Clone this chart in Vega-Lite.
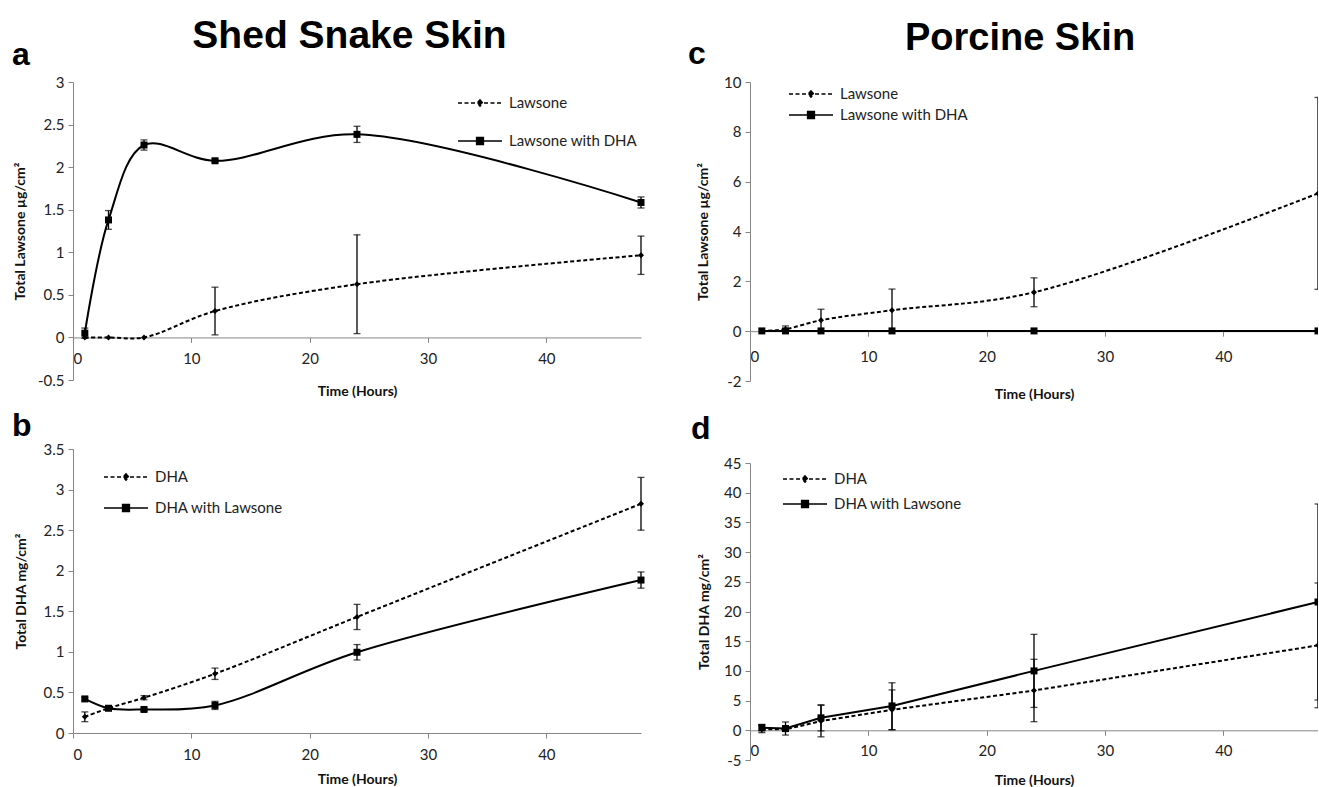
{
  "$schema": "https://vega.github.io/schema/vega-lite/v6.json",
  "background": "white",
  "padding": {"left": 12, "top": 16, "right": 0, "bottom": 0},
  "spacing": 43,
  "resolve": {"scale": {"strokeDash": "independent", "color": "independent", "x": "independent", "y": "independent"}, "legend": {"strokeDash": "independent", "color": "independent"}},
  "config": {
    "view": {"stroke": null},
    "font": "Lato",
    "axis": {"grid": false, "domainColor": "#868686", "tickColor": "#868686", "tickSize": 5, "labelFont": "Lato", "labelFontSize": 15, "labelColor": "#222", "titleFont": "Lato", "titleFontSize": 14, "titleFontWeight": "bold", "titleColor": "#111", "labelExpr": "'' + datum.value", "labelOverlap": false},
    "axisY": {"labelOverlap": false},
    "axisQuantitative": {"labelOverlap": false},
    "legend": {"labelFont": "Lato", "labelFontSize": 15, "labelColor": "#222", "symbolSize": 400, "symbolStrokeWidth": 1.7, "symbolFillColor": "black", "symbolStrokeColor": "black", "padding": 0, "labelOffset": 18, "orient": "none", "title": null},
    "title": {"color": "black"}
  },
  "datasets": {
    "a": [
      {"series": "Lawsone", "hours": 1, "value": 0, "lo": 0, "hi": 0},
      {"series": "Lawsone", "hours": 3, "value": 0, "lo": 0, "hi": 0},
      {"series": "Lawsone", "hours": 6, "value": 0, "lo": 0, "hi": 0},
      {"series": "Lawsone", "hours": 12, "value": 0.31, "lo": 0.03, "hi": 0.59},
      {"series": "Lawsone", "hours": 24, "value": 0.625, "lo": 0.045, "hi": 1.205},
      {"series": "Lawsone", "hours": 48, "value": 0.965, "lo": 0.74, "hi": 1.19},
      {"series": "Lawsone with DHA", "hours": 1, "value": 0.05, "lo": -0.01, "hi": 0.11},
      {"series": "Lawsone with DHA", "hours": 3, "value": 1.38, "lo": 1.27, "hi": 1.49},
      {"series": "Lawsone with DHA", "hours": 6, "value": 2.26, "lo": 2.2, "hi": 2.32},
      {"series": "Lawsone with DHA", "hours": 12, "value": 2.075, "lo": 2.055, "hi": 2.095},
      {"series": "Lawsone with DHA", "hours": 24, "value": 2.385, "lo": 2.29, "hi": 2.48},
      {"series": "Lawsone with DHA", "hours": 48, "value": 1.585, "lo": 1.52, "hi": 1.65}
    ],
    "b": [
      {"series": "DHA", "hours": 1, "value": 0.2, "lo": 0.14, "hi": 0.26},
      {"series": "DHA", "hours": 3, "value": 0.305, "lo": 0.29, "hi": 0.32},
      {"series": "DHA", "hours": 6, "value": 0.435, "lo": 0.41, "hi": 0.46},
      {"series": "DHA", "hours": 12, "value": 0.73, "lo": 0.66, "hi": 0.8},
      {"series": "DHA", "hours": 24, "value": 1.43, "lo": 1.275, "hi": 1.585},
      {"series": "DHA", "hours": 48, "value": 2.825, "lo": 2.5, "hi": 3.15},
      {"series": "DHA with Lawsone", "hours": 1, "value": 0.42, "lo": 0.4, "hi": 0.44},
      {"series": "DHA with Lawsone", "hours": 3, "value": 0.305, "lo": 0.29, "hi": 0.32},
      {"series": "DHA with Lawsone", "hours": 6, "value": 0.29, "lo": 0.27, "hi": 0.31},
      {"series": "DHA with Lawsone", "hours": 12, "value": 0.34, "lo": 0.29, "hi": 0.39},
      {"series": "DHA with Lawsone", "hours": 24, "value": 0.995, "lo": 0.9, "hi": 1.09},
      {"series": "DHA with Lawsone", "hours": 48, "value": 1.885, "lo": 1.785, "hi": 1.985}
    ],
    "c": [
      {"series": "Lawsone", "hours": 1, "value": 0, "lo": 0, "hi": 0},
      {"series": "Lawsone", "hours": 3, "value": 0.08, "lo": -0.05, "hi": 0.21},
      {"series": "Lawsone", "hours": 6, "value": 0.44, "lo": 0.0, "hi": 0.88},
      {"series": "Lawsone", "hours": 12, "value": 0.84, "lo": -0.01, "hi": 1.69},
      {"series": "Lawsone", "hours": 24, "value": 1.56, "lo": 0.98, "hi": 2.14},
      {"series": "Lawsone", "hours": 48, "value": 5.53, "lo": 1.68, "hi": 9.38},
      {"series": "Lawsone with DHA", "hours": 1, "value": 0.01, "lo": 0.01, "hi": 0.01},
      {"series": "Lawsone with DHA", "hours": 3, "value": 0.01, "lo": 0.01, "hi": 0.01},
      {"series": "Lawsone with DHA", "hours": 6, "value": 0.01, "lo": 0.01, "hi": 0.01},
      {"series": "Lawsone with DHA", "hours": 12, "value": 0.01, "lo": 0.01, "hi": 0.01},
      {"series": "Lawsone with DHA", "hours": 24, "value": 0.01, "lo": 0.01, "hi": 0.01},
      {"series": "Lawsone with DHA", "hours": 48, "value": 0.01, "lo": 0.01, "hi": 0.01}
    ],
    "d": [
      {"series": "DHA", "hours": 1, "value": 0.2, "lo": -0.4, "hi": 0.8},
      {"series": "DHA", "hours": 3, "value": 0.15, "lo": -0.2, "hi": 0.5},
      {"series": "DHA", "hours": 6, "value": 1.55, "lo": -1.1, "hi": 4.2},
      {"series": "DHA", "hours": 12, "value": 3.45, "lo": 0.1, "hi": 6.8},
      {"series": "DHA", "hours": 24, "value": 6.7, "lo": 1.45, "hi": 11.95},
      {"series": "DHA", "hours": 48, "value": 14.3, "lo": 3.8, "hi": 24.8},
      {"series": "DHA with Lawsone", "hours": 1, "value": 0.45, "lo": -0.1, "hi": 1.0},
      {"series": "DHA with Lawsone", "hours": 3, "value": 0.3, "lo": -0.8, "hi": 1.4},
      {"series": "DHA with Lawsone", "hours": 6, "value": 2.1, "lo": -0.1, "hi": 4.3},
      {"series": "DHA with Lawsone", "hours": 12, "value": 4.1, "lo": 0.1, "hi": 8.0},
      {"series": "DHA with Lawsone", "hours": 24, "value": 10.0, "lo": 3.85, "hi": 16.15},
      {"series": "DHA with Lawsone", "hours": 48, "value": 21.6, "lo": 5.1, "hi": 38.1}
    ]
  },
  "hconcat": [
    {
      "title": {"text": "Shed Snake Skin", "font": "Liberation Sans", "fontSize": 39, "fontWeight": "bold", "anchor": "middle", "baseline": "alphabetic", "offset": -48, "dx": 21},
      "bounds": "flush",
      "spacing": 69,
      "resolve": {"scale": {"strokeDash": "independent", "color": "independent", "x": "independent", "y": "independent"}, "legend": {"strokeDash": "independent", "color": "independent"}},
      "vconcat": [
        {
          "data": {"name": "a"},
          "width": 568, "height": 298,
          "title": {"text": "a", "font": "Liberation Sans", "fontSize": 32, "fontWeight": "bold", "anchor": "start", "frame": "group", "dx": -61, "offset": -21.5, "baseline": "alphabetic"},
          "encoding": {"x": {"field": "hours", "type": "quantitative", "scale": {"domain": [0, 48], "nice": false, "zero": false}, "axis": {"values": [0, 10, 20, 30, 40], "offset": -42.57, "title": "Time (Hours)", "titleY": 54, "titleBaseline": "middle", "labelPadding": 9}}},
          "layer": [
            {"transform": [{"filter": "datum.hi > datum.lo"}], "mark": {"type": "rule", "color": "black", "strokeWidth": 1.3},
             "encoding": {"y": {"field": "lo", "type": "quantitative", "scale": {"domain": [-0.5, 3], "nice": false, "zero": false}, "axis": {"values": [-0.5, 0, 0.5, 1, 1.5, 2, 2.5, 3], "title": "Total Lawsone µg/cm²", "titleX": -53, "titleBaseline": "middle", "labelPadding": 4, "labelOverlap": false}}, "y2": {"field": "hi"}}},
            {"transform": [{"filter": "datum.hi > datum.lo"}], "mark": {"type": "tick", "orient": "horizontal", "size": 7, "thickness": 1.3, "color": "black"}, "encoding": {"y": {"field": "lo", "type": "quantitative"}}},
            {"transform": [{"filter": "datum.hi > datum.lo"}], "mark": {"type": "tick", "orient": "horizontal", "size": 7, "thickness": 1.3, "color": "black"}, "encoding": {"y": {"field": "hi", "type": "quantitative"}}},
            {"transform": [{"filter": "datum.series === 'Lawsone'"}], "mark": {"type": "line", "interpolate": "catmull-rom", "color": "black", "strokeWidth": 2},
             "encoding": {"y": {"field": "value", "type": "quantitative"},
               "strokeDash": {"field": "series", "type": "nominal", "scale": {"domain": ["Lawsone"], "range": [[4, 2.5]]},
                 "legend": {"legendX": 396, "legendY": 10, "symbolType": "M-2.2,0H2.2M0,-0.3L0.27,0L0,0.3L-0.27,0Z", "encode": {"symbols": {"update": {"fill": {"value": "black"}, "stroke": {"value": "black"}, "strokeDash": {"value": [4, 2.5]}, "strokeWidth": {"value": 1.7}}}}}}}},
            {"transform": [{"filter": "datum.series === 'Lawsone with DHA'"}], "mark": {"type": "line", "interpolate": "catmull-rom", "strokeWidth": 2},
             "encoding": {"y": {"field": "value", "type": "quantitative"},
               "color": {"field": "series", "type": "nominal", "scale": {"domain": ["Lawsone with DHA"], "range": ["black"]},
                 "legend": {"legendX": 396, "legendY": 48, "symbolType": "M-2.2,0H2.2M-0.33,-0.33H0.33V0.33H-0.33Z", "encode": {"symbols": {"update": {"fill": {"value": "black"}, "stroke": {"value": "black"}}}}}}}},
            {"transform": [{"filter": "datum.series === 'Lawsone'"}], "mark": {"type": "point", "shape": "diamond", "size": 36, "filled": true, "color": "black", "opacity": 1},
             "encoding": {"y": {"field": "value", "type": "quantitative"}}},
            {"transform": [{"filter": "datum.series !== 'Lawsone'"}], "mark": {"type": "point", "shape": "square", "size": 49, "filled": true, "color": "black", "opacity": 1},
             "encoding": {"y": {"field": "value", "type": "quantitative"}}}
          ]
        },
        {
          "data": {"name": "b"},
          "width": 568, "height": 284,
          "title": {"text": "b", "font": "Liberation Sans", "fontSize": 32, "fontWeight": "bold", "anchor": "start", "frame": "group", "dx": -61, "offset": -25.5, "baseline": "alphabetic"},
          "encoding": {"x": {"field": "hours", "type": "quantitative", "scale": {"domain": [0, 48], "nice": false, "zero": false}, "axis": {"values": [0, 10, 20, 30, 40], "title": "Time (Hours)", "titleY": 46, "titleBaseline": "middle", "labelPadding": 9}}},
          "layer": [
            {"transform": [{"filter": "datum.hi > datum.lo"}], "mark": {"type": "rule", "color": "black", "strokeWidth": 1.3},
             "encoding": {"y": {"field": "lo", "type": "quantitative", "scale": {"domain": [0, 3.5], "nice": false}, "axis": {"values": [0, 0.5, 1, 1.5, 2, 2.5, 3, 3.5], "title": "Total DHA mg/cm²", "titleX": -52, "titleBaseline": "middle", "labelPadding": 4, "labelOverlap": false}}, "y2": {"field": "hi"}}},
            {"transform": [{"filter": "datum.hi > datum.lo"}], "mark": {"type": "tick", "orient": "horizontal", "size": 7, "thickness": 1.3, "color": "black"}, "encoding": {"y": {"field": "lo", "type": "quantitative"}}},
            {"transform": [{"filter": "datum.hi > datum.lo"}], "mark": {"type": "tick", "orient": "horizontal", "size": 7, "thickness": 1.3, "color": "black"}, "encoding": {"y": {"field": "hi", "type": "quantitative"}}},
            {"transform": [{"filter": "datum.series === 'DHA'"}], "mark": {"type": "line", "interpolate": "catmull-rom", "color": "black", "strokeWidth": 2},
             "encoding": {"y": {"field": "value", "type": "quantitative"},
               "strokeDash": {"field": "series", "type": "nominal", "scale": {"domain": ["DHA"], "range": [[4, 2.5]]},
                 "legend": {"legendX": 42, "legendY": 17, "symbolType": "M-2.2,0H2.2M0,-0.3L0.27,0L0,0.3L-0.27,0Z", "encode": {"symbols": {"update": {"fill": {"value": "black"}, "stroke": {"value": "black"}, "strokeDash": {"value": [4, 2.5]}, "strokeWidth": {"value": 1.7}}}}}}}},
            {"transform": [{"filter": "datum.series === 'DHA with Lawsone'"}], "mark": {"type": "line", "interpolate": "catmull-rom", "strokeWidth": 2},
             "encoding": {"y": {"field": "value", "type": "quantitative"},
               "color": {"field": "series", "type": "nominal", "scale": {"domain": ["DHA with Lawsone"], "range": ["black"]},
                 "legend": {"legendX": 42, "legendY": 48, "symbolType": "M-2.2,0H2.2M-0.33,-0.33H0.33V0.33H-0.33Z", "encode": {"symbols": {"update": {"fill": {"value": "black"}, "stroke": {"value": "black"}}}}}}}},
            {"transform": [{"filter": "datum.series === 'DHA'"}], "mark": {"type": "point", "shape": "diamond", "size": 36, "filled": true, "color": "black", "opacity": 1},
             "encoding": {"y": {"field": "value", "type": "quantitative"}}},
            {"transform": [{"filter": "datum.series !== 'DHA'"}], "mark": {"type": "point", "shape": "square", "size": 49, "filled": true, "color": "black", "opacity": 1},
             "encoding": {"y": {"field": "value", "type": "quantitative"}}}
          ]
        }
      ]
    },
    {
      "title": {"text": "Porcine Skin", "font": "Liberation Sans", "fontSize": 38, "fontWeight": "bold", "anchor": "middle", "baseline": "alphabetic", "offset": -50, "dx": 17},
      "bounds": "flush",
      "spacing": 82,
      "resolve": {"scale": {"strokeDash": "independent", "color": "independent", "x": "independent", "y": "independent"}, "legend": {"strokeDash": "independent", "color": "independent"}},
      "vconcat": [
        {
          "data": {"name": "c"},
          "width": 568, "height": 299,
          "title": {"text": "c", "font": "Liberation Sans", "fontSize": 32, "fontWeight": "bold", "anchor": "start", "frame": "group", "dx": -62, "offset": -20.5, "baseline": "alphabetic"},
          "encoding": {"x": {"field": "hours", "type": "quantitative", "scale": {"domain": [0, 48], "nice": false, "zero": false}, "axis": {"values": [0, 10, 20, 30, 40], "offset": -49.83, "title": "Time (Hours)", "titleY": 63, "titleBaseline": "middle", "labelPadding": 13}}},
          "layer": [
            {"transform": [{"filter": "datum.hi > datum.lo"}], "mark": {"type": "rule", "color": "black", "strokeWidth": 1.3, "clip": true},
             "encoding": {"y": {"field": "lo", "type": "quantitative", "scale": {"domain": [-2, 10], "nice": false, "zero": false}, "axis": {"values": [-2, 0, 2, 4, 6, 8, 10], "title": "Total Lawsone µg/cm²", "titleX": -47, "titleBaseline": "middle", "labelPadding": 4, "labelOverlap": false}}, "y2": {"field": "hi"}}},
            {"transform": [{"filter": "datum.hi > datum.lo"}], "mark": {"type": "tick", "orient": "horizontal", "size": 7, "thickness": 1.3, "color": "black", "clip": true}, "encoding": {"y": {"field": "lo", "type": "quantitative"}}},
            {"transform": [{"filter": "datum.hi > datum.lo"}], "mark": {"type": "tick", "orient": "horizontal", "size": 7, "thickness": 1.3, "color": "black", "clip": true}, "encoding": {"y": {"field": "hi", "type": "quantitative"}}},
            {"transform": [{"filter": "datum.series === 'Lawsone'"}], "mark": {"type": "line", "interpolate": "catmull-rom", "color": "black", "strokeWidth": 2, "clip": true},
             "encoding": {"y": {"field": "value", "type": "quantitative"},
               "strokeDash": {"field": "series", "type": "nominal", "scale": {"domain": ["Lawsone"], "range": [[4, 2.5]]},
                 "legend": {"legendX": 50, "legendY": 1, "symbolType": "M-2.2,0H2.2M0,-0.3L0.27,0L0,0.3L-0.27,0Z", "encode": {"symbols": {"update": {"fill": {"value": "black"}, "stroke": {"value": "black"}, "strokeDash": {"value": [4, 2.5]}, "strokeWidth": {"value": 1.7}}}}}}}},
            {"transform": [{"filter": "datum.series === 'Lawsone with DHA'"}], "mark": {"type": "line", "interpolate": "catmull-rom", "strokeWidth": 2, "clip": true},
             "encoding": {"y": {"field": "value", "type": "quantitative"},
               "color": {"field": "series", "type": "nominal", "scale": {"domain": ["Lawsone with DHA"], "range": ["black"]},
                 "legend": {"legendX": 50, "legendY": 22, "symbolType": "M-2.2,0H2.2M-0.33,-0.33H0.33V0.33H-0.33Z", "encode": {"symbols": {"update": {"fill": {"value": "black"}, "stroke": {"value": "black"}}}}}}}},
            {"transform": [{"filter": "datum.series === 'Lawsone'"}], "mark": {"type": "point", "shape": "diamond", "size": 36, "filled": true, "color": "black", "opacity": 1, "clip": true},
             "encoding": {"y": {"field": "value", "type": "quantitative"}}},
            {"transform": [{"filter": "datum.series !== 'Lawsone'"}], "mark": {"type": "point", "shape": "square", "size": 49, "filled": true, "color": "black", "opacity": 1, "clip": true},
             "encoding": {"y": {"field": "value", "type": "quantitative"}}}
          ]
        },
        {
          "data": {"name": "d"},
          "width": 568, "height": 297,
          "title": {"text": "d", "font": "Liberation Sans", "fontSize": 32, "fontWeight": "bold", "anchor": "start", "frame": "group", "dx": -59, "offset": -15, "baseline": "alphabetic"},
          "encoding": {"x": {"field": "hours", "type": "quantitative", "scale": {"domain": [0, 48], "nice": false, "zero": false}, "axis": {"values": [0, 10, 20, 30, 40], "offset": -29.7, "title": "Time (Hours)", "titleY": 50, "titleBaseline": "middle", "labelPadding": 8}}},
          "layer": [
            {"transform": [{"filter": "datum.hi > datum.lo"}], "mark": {"type": "rule", "color": "black", "strokeWidth": 1.3, "clip": true},
             "encoding": {"y": {"field": "lo", "type": "quantitative", "scale": {"domain": [-5, 45], "nice": false, "zero": false}, "axis": {"values": [-5, 0, 5, 10, 15, 20, 25, 30, 35, 40, 45], "tickCount": 11, "title": "Total DHA mg/cm²", "titleX": -46, "titleBaseline": "middle", "labelPadding": 4, "labelOverlap": false, "labelSeparation": 0}}, "y2": {"field": "hi"}}},
            {"transform": [{"filter": "datum.hi > datum.lo"}], "mark": {"type": "tick", "orient": "horizontal", "size": 7, "thickness": 1.3, "color": "black", "clip": true}, "encoding": {"y": {"field": "lo", "type": "quantitative", "axis": {"values": [-5, 0, 5, 10, 15, 20, 25, 30, 35, 40, 45], "tickCount": 11, "labelOverlap": false, "title": "Total DHA mg/cm²"}}}},
            {"transform": [{"filter": "datum.hi > datum.lo"}], "mark": {"type": "tick", "orient": "horizontal", "size": 7, "thickness": 1.3, "color": "black", "clip": true}, "encoding": {"y": {"field": "hi", "type": "quantitative", "axis": {"values": [-5, 0, 5, 10, 15, 20, 25, 30, 35, 40, 45], "tickCount": 11, "labelOverlap": false, "title": "Total DHA mg/cm²"}}}},
            {"transform": [{"filter": "datum.series === 'DHA'"}], "mark": {"type": "line", "interpolate": "linear", "color": "black", "strokeWidth": 2, "clip": true},
             "encoding": {"y": {"field": "value", "type": "quantitative", "axis": {"values": [-5, 0, 5, 10, 15, 20, 25, 30, 35, 40, 45], "tickCount": 11, "labelOverlap": false, "title": "Total DHA mg/cm²"}},
               "strokeDash": {"field": "series", "type": "nominal", "scale": {"domain": ["DHA"], "range": [[4, 2.5]]},
                 "legend": {"legendX": 44, "legendY": 5, "symbolType": "M-2.2,0H2.2M0,-0.3L0.27,0L0,0.3L-0.27,0Z", "encode": {"symbols": {"update": {"fill": {"value": "black"}, "stroke": {"value": "black"}, "strokeDash": {"value": [4, 2.5]}, "strokeWidth": {"value": 1.7}}}}}}}},
            {"transform": [{"filter": "datum.series === 'DHA with Lawsone'"}], "mark": {"type": "line", "interpolate": "linear", "strokeWidth": 2, "clip": true},
             "encoding": {"y": {"field": "value", "type": "quantitative", "axis": {"values": [-5, 0, 5, 10, 15, 20, 25, 30, 35, 40, 45], "tickCount": 11, "labelOverlap": false, "title": "Total DHA mg/cm²"}},
               "color": {"field": "series", "type": "nominal", "scale": {"domain": ["DHA with Lawsone"], "range": ["black"]},
                 "legend": {"legendX": 44, "legendY": 30, "symbolType": "M-2.2,0H2.2M-0.33,-0.33H0.33V0.33H-0.33Z", "encode": {"symbols": {"update": {"fill": {"value": "black"}, "stroke": {"value": "black"}}}}}}}},
            {"transform": [{"filter": "datum.series === 'DHA'"}], "mark": {"type": "point", "shape": "diamond", "size": 36, "filled": true, "color": "black", "opacity": 1, "clip": true},
             "encoding": {"y": {"field": "value", "type": "quantitative", "axis": {"values": [-5, 0, 5, 10, 15, 20, 25, 30, 35, 40, 45], "tickCount": 11, "labelOverlap": false, "title": "Total DHA mg/cm²"}}}},
            {"transform": [{"filter": "datum.series !== 'DHA'"}], "mark": {"type": "point", "shape": "square", "size": 49, "filled": true, "color": "black", "opacity": 1, "clip": true},
             "encoding": {"y": {"field": "value", "type": "quantitative", "axis": {"values": [-5, 0, 5, 10, 15, 20, 25, 30, 35, 40, 45], "tickCount": 11, "labelOverlap": false, "title": "Total DHA mg/cm²"}}}}
          ]
        }
      ]
    }
  ]
}
